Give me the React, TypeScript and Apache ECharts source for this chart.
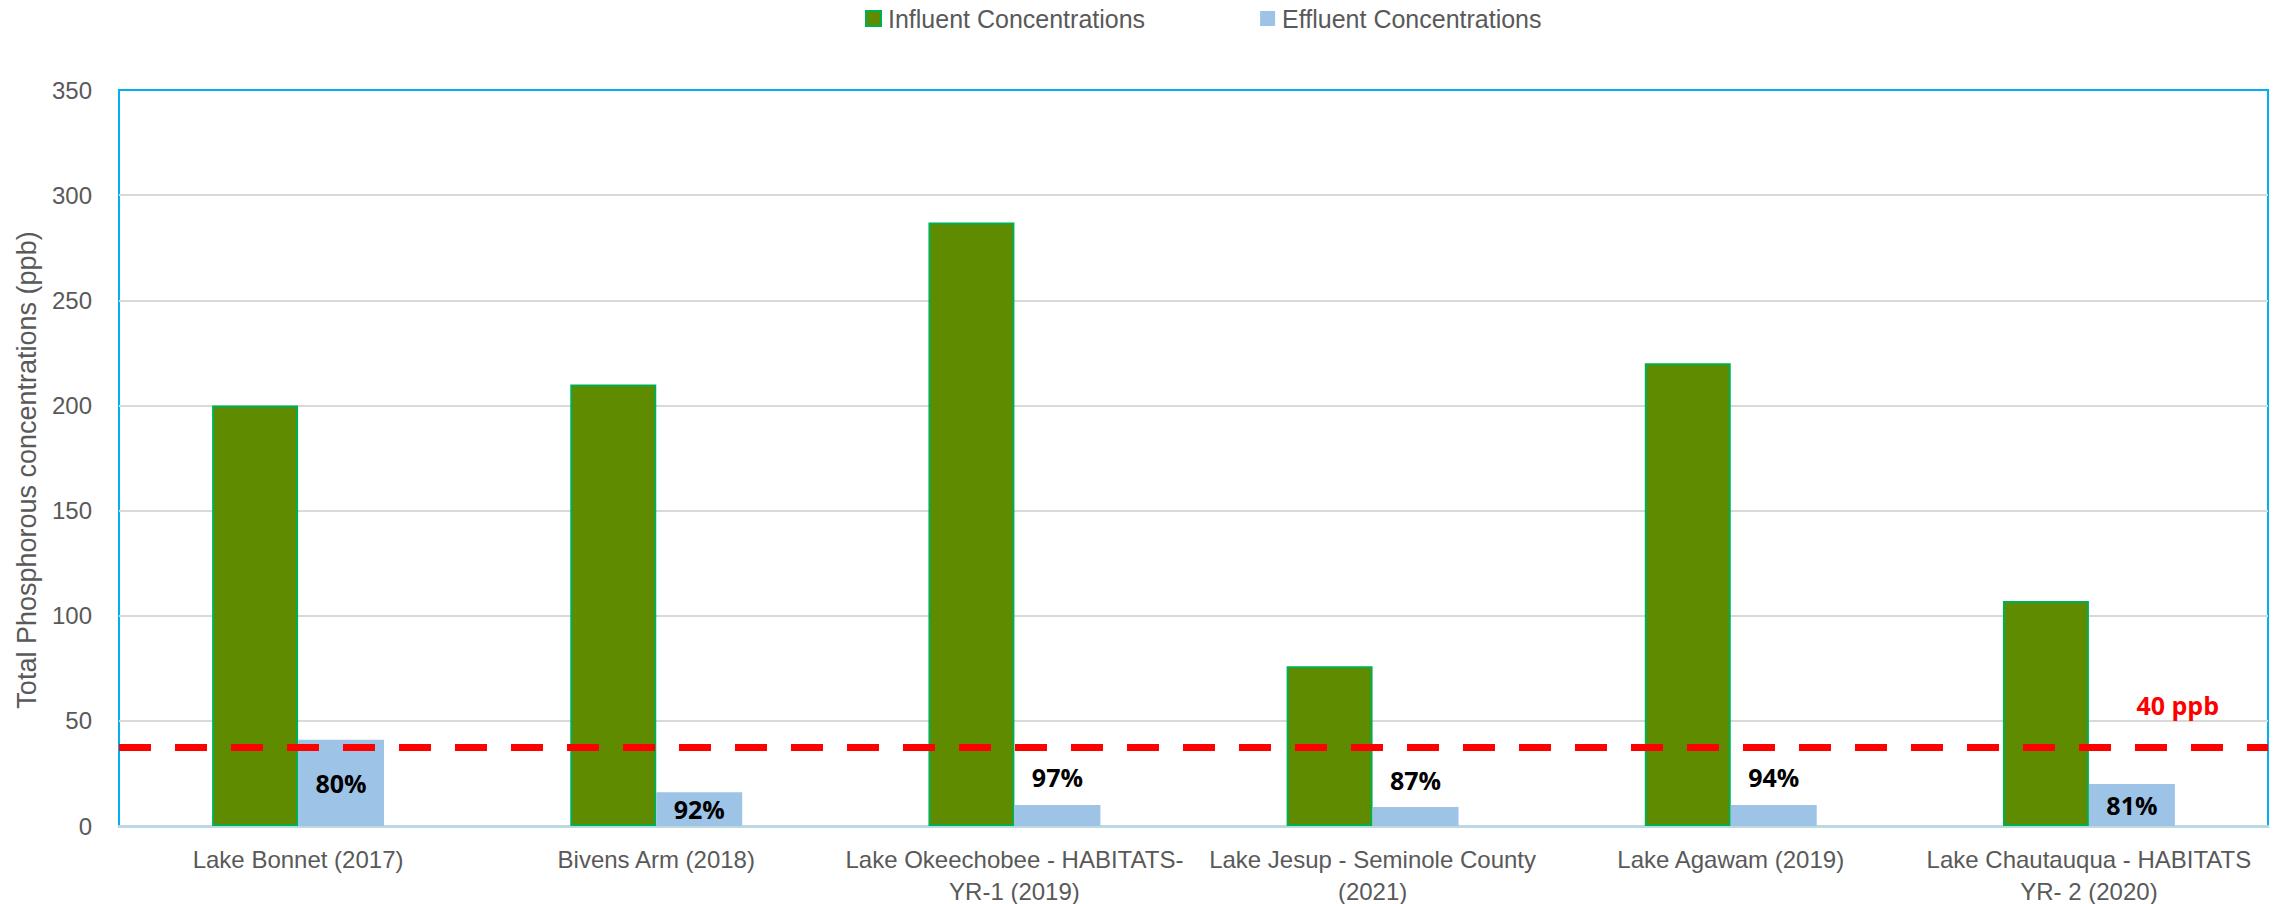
import React, { useEffect, useRef } from "react";
import * as echarts from "echarts";

const categories: string[] = [
  "Lake Bonnet (2017)",
  "Bivens Arm (2018)",
  "Lake Okeechobee - HABITATS-\nYR-1 (2019)",
  "Lake Jesup - Seminole County\n(2021)",
  "Lake Agawam (2019)",
  "Lake Chautauqua - HABITATS\nYR- 2 (2020)",
];
const influent: number[] = [200, 210, 287, 76, 220, 107];
const effluent: number[] = [41, 16, 10, 9, 10, 20];
const reductionLabels: string[] = ["80%", "92%", "97%", "87%", "94%", "81%"];
const targetValue = 37.5;
const targetLabel = "40 ppb";
const yTicks = { min: 0, max: 350, interval: 50 };

export default function App() {
  const ref = useRef<HTMLDivElement>(null);
  useEffect(() => {
    document.body.style.margin = "0";
    if (!ref.current) return;
    const chart = echarts.init(ref.current, undefined, { renderer: "svg" });
    const font = "'Liberation Sans', Arial, sans-serif";
    const boldFont = "'Open Sans', 'Noto Sans', sans-serif";
    chart.setOption({
      animation: false,
      backgroundColor: "#ffffff",
      textStyle: { fontFamily: font },
      legend: {
        top: 1,
        left: 860,
        itemWidth: 15,
        itemHeight: 15,
        itemGap: 115,
        textStyle: { fontSize: 25, color: "#595959", fontFamily: font, padding: [0, 0, 0, 2] },
        data: [
          { name: "Influent Concentrations", icon: "rect" },
          { name: "Effluent Concentrations", icon: "rect" },
        ],
      },
      grid: {
        left: 119,
        right: 12,
        top: 90,
        bottom: 78,
        outerBoundsMode: "none",
        show: true,
        borderColor: "#00B0F0",
        borderWidth: 2,
        backgroundColor: "transparent",
      },
      xAxis: {
        type: "category",
        data: categories,
        axisTick: { show: false },
        axisLine: { lineStyle: { color: "#BCD8E0", width: 3 } },
        axisLabel: {
          interval: 0,
          color: "#595959",
          fontSize: 24,
          lineHeight: 32,
          margin: 17,
          fontFamily: font,
        },
      },
      yAxis: {
        type: "value",
        min: yTicks.min,
        max: yTicks.max,
        interval: yTicks.interval,
        name: "Total Phosphorous concentrations (ppb)",
        nameLocation: "middle",
        nameGap: 79,
        nameTextStyle: {
          fontSize: 27,
          color: "#595959",
          fontFamily: font,
          padding: [0, 24, 0, 0],
        },
        axisLine: { show: false },
        axisTick: { show: false },
        axisLabel: { color: "#595959", fontSize: 24, margin: 27, fontFamily: font },
        splitLine: {
          show: true,
          showMinLine: false,
          showMaxLine: false,
          lineStyle: { color: "#D9D9D9", width: 2 },
        },
      },
      series: [
        {
          name: "Influent Concentrations",
          type: "bar",
          data: influent,
          barGap: "0%",
          barCategoryGap: "52%",
          itemStyle: { color: "#5F8B00", borderColor: "#00B050", borderWidth: 2 },
        },
        {
          name: "Effluent Concentrations",
          type: "bar",
          data: effluent.map((v, i) => ({
            value: v,
            label: {
              show: true,
              formatter: reductionLabels[i],
              position: v >= 15 ? "inside" : "top",
              distance: 15,
            },
          })),
          itemStyle: { color: "#9DC3E6" },
          label: {
            color: "#000000",
            fontSize: 25,
            fontWeight: "bold",
            fontFamily: boldFont,
          },
          markLine: {
            silent: true,
            symbol: "none",
            z: 10,
            lineStyle: { color: "#FF0000", width: 7, type: [32, 24] },
            label: {
              show: true,
              formatter: targetLabel,
              position: "insideEndTop",
              distance: [49, 30],
              color: "#FF0000",
              fontSize: 25,
              fontWeight: "bold",
              fontFamily: boldFont,
            },
            data: [{ yAxis: targetValue }],
          },
        },
      ],
    });
    return () => chart.dispose();
  }, []);
  return <div ref={ref} style={{ width: 2280, height: 904 }} />;
}
